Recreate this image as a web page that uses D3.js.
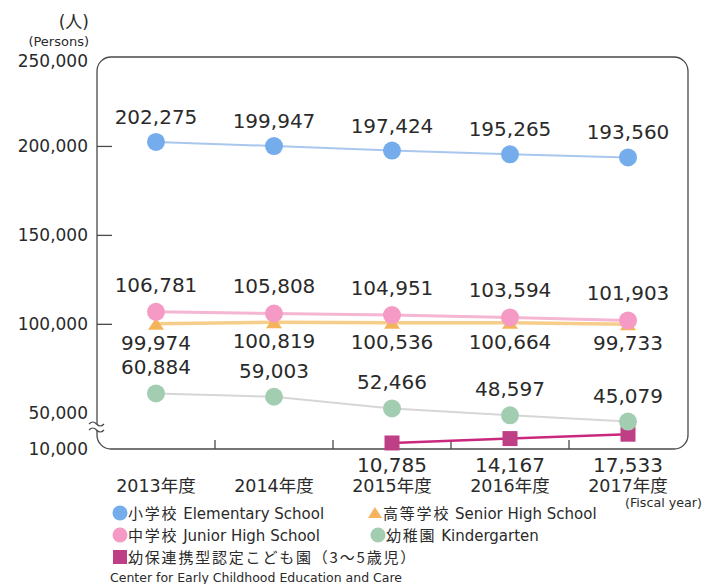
<!DOCTYPE html>
<html>
<head>
<meta charset="UTF-8">
<script src="https://cdn.jsdelivr.net/npm/d3@7"></script>
<style>
html, body { margin: 0; padding: 0; background: #fff; }
svg { display: block; font-family: "DejaVu Sans", "Noto Sans CJK JP", sans-serif; }
</style>
</head>
<body>
<script>
// school enrolment by fiscal year (persons)
var years = ["2013", "2014", "2015", "2016", "2017"];
var elementary = [202275, 199947, 197424, 195265, 193560];
var juniorHigh = [106781, 105808, 104951, 103594, 101903];
var seniorHigh = [99974, 100819, 100536, 100664, 99733];
var kindergarten = [60884, 59003, 52466, 48597, 45079];
var ececYears = ["2015", "2016", "2017"];
var ecec = [10785, 14167, 17533];

var yTickLabels = [10000, 50000, 100000, 150000, 200000, 250000];
var yTickMarks = [100000, 150000, 200000];

var width = 719, height = 584;
var frameL = 97, frameR = 688, frameT = 57, frameB = 449, rad = 14;

var svg = d3.select("body").append("svg")
    .attr("width", width)
    .attr("height", height);

var x = d3.scalePoint().domain(years).range([156, 628]);
// broken axis: lower part squeezed below the ≈ mark
var y = d3.scaleLinear()
    .domain([10000, 20000, 42000, 250000])
    .range([444, 431, 427, 57]);

// frame
svg.append("rect")
    .attr("x", frameL).attr("y", frameT)
    .attr("width", frameR - frameL).attr("height", frameB - frameT)
    .attr("rx", rad).attr("ry", rad)
    .attr("fill", "none")
    .attr("stroke", "#4a4a4a")
    .attr("stroke-width", 1.3);

// inner tick marks on left edge
svg.append("g")
    .attr("transform", "translate(" + frameL + ",0)")
    .call(d3.axisRight(y).tickValues(yTickMarks).tickSize(15).tickFormat(""))
    .call(function(g) { g.select(".domain").remove(); })
    .selectAll("line").attr("stroke", "#4a4a4a").attr("stroke-width", 1.3);

// y labels
var yAxis = svg.append("g")
    .attr("transform", "translate(" + frameL + ",0)")
    .call(d3.axisLeft(y).tickValues(yTickLabels).tickSize(0).tickPadding(9).tickFormat(d3.format(",")));
yAxis.select(".domain").remove();
yAxis.selectAll("text")
    .attr("font-family", "DejaVu Sans")
    .attr("font-size", 17)
    .attr("fill", "#2a2a2a")
    .attr("dy", function(d) { return d == 250000 ? "0.55em" : d == 10000 ? "0.6em" : "0.35em"; });

// bottom ticks between categories
var mids = years.slice(1).map(function(d, i) { return (x(years[i]) + x(d)) / 2; });
svg.append("g").selectAll("line")
    .data(mids)
    .enter().append("line")
    .attr("x1", function(d) { return d; })
    .attr("x2", function(d) { return d; })
    .attr("y1", frameB - 9)
    .attr("y2", frameB)
    .attr("stroke", "#4a4a4a")
    .attr("stroke-width", 1.3);

// break mark
svg.append("path")
    .attr("d", "M89,424 q3.75,-4 7.5,0 t7.5,0 L104,430 q-3.75,4 -7.5,0 t-7.5,0 Z")
    .attr("fill", "#fff");
svg.append("path")
    .attr("d", "M89,424 q3.75,-4 7.5,0 t7.5,0 M89,430 q3.75,-4 7.5,0 t7.5,0")
    .attr("fill", "none")
    .attr("stroke", "#4a4a4a")
    .attr("stroke-width", 1.2);

// unit labels
svg.append("text").attr("x", 89).attr("y", 28)
    .attr("text-anchor", "end").attr("font-size", 17).attr("fill", "#2a2a2a")
    .text("(人)");
svg.append("text").attr("x", 89).attr("y", 46)
    .attr("text-anchor", "end").attr("font-size", 13).attr("fill", "#2a2a2a")
    .text("(Persons)");

var line = d3.line();

function drawSeries(cats, vals, opt) {
    var pts = cats.map(function(c, i) { return [x(c), y(vals[i])]; });
    var g = svg.append("g");
    g.append("path")
        .attr("d", line(pts))
        .attr("fill", "none")
        .attr("stroke", opt.line)
        .attr("stroke-width", opt.lw);
    var m = g.selectAll(".m").data(pts).enter();
    if (opt.shape == "circle") {
        m.append("circle")
            .attr("cx", function(d) { return d[0]; })
            .attr("cy", function(d) { return d[1]; })
            .attr("r", 9)
            .attr("fill", opt.color);
    } else if (opt.shape == "tri") {
        m.append("path")
            .attr("d", function(d) { return "M" + d[0] + "," + (d[1] - 6) + " l8,12 l-16,0 Z"; })
            .attr("fill", opt.color);
    } else {
        m.append("rect")
            .attr("x", function(d) { return d[0] - 7.5; })
            .attr("y", function(d) { return d[1] - 7.5; })
            .attr("width", 15).attr("height", 15)
            .attr("fill", opt.color);
    }
    return pts;
}

function drawLabels(cats, vals, fn) {
    svg.append("g").selectAll("text")
        .data(vals)
        .enter().append("text")
        .attr("x", function(d, i) { return x(cats[i]); })
        .attr("y", fn)
        .attr("text-anchor", "middle")
        .attr("font-size", 20)
        .attr("fill", "#2a2a2a")
        .text(d3.format(","));
}

drawSeries(years, seniorHigh, { line: "#f6cd8a", lw: 3.5, color: "#f4b45c", shape: "tri" });
drawSeries(years, juniorHigh, { line: "#f4b6d2", lw: 3, color: "#f59ac4", shape: "circle" });
drawSeries(years, elementary, { line: "#a9c7ee", lw: 2, color: "#74acec", shape: "circle" });
drawSeries(ececYears, ecec, { line: "#c8287e", lw: 2.5, color: "#bf3f86", shape: "rect" });
drawSeries(years, kindergarten, { line: "#d6d6d6", lw: 2, color: "#a2cdb0", shape: "circle" });

drawLabels(years, elementary, function(d) { return y(d) - 18; });
drawLabels(years, juniorHigh, function(d) { return y(d) - 20; });
drawLabels(years, seniorHigh, function(d) { return y(d) + 26; });
drawLabels(years, kindergarten, function(d) { return y(d) - 19; });
drawLabels(ececYears, ecec, function() { return 472; });

// x category labels
svg.append("g").selectAll("text")
    .data(years)
    .enter().append("text")
    .attr("x", function(d) { return x(d); })
    .attr("y", 492)
    .attr("text-anchor", "middle")
    .attr("font-size", 17.5)
    .attr("fill", "#2a2a2a")
    .text(function(d) { return d + "年度"; });
svg.append("text").attr("x", 625).attr("y", 507)
    .attr("font-size", 12.7).attr("fill", "#2a2a2a")
    .text("(Fiscal year)");

// legend
var legend = [
    { jp: "小学校", en: "Elementary School", color: "#74acec", shape: "circle", lx: 120, ly: 513 },
    { jp: "高等学校", en: "Senior High School", color: "#f4b45c", shape: "tri", lx: 375, ly: 513 },
    { jp: "中学校", en: "Junior High School", color: "#f59ac4", shape: "circle", lx: 120, ly: 535 },
    { jp: "幼稚園", en: "Kindergarten", color: "#a2cdb0", shape: "circle", lx: 378, ly: 535 },
    { jp: "幼保連携型認定こども園（3～5歳児）", en: "", color: "#bf3f86", shape: "rect", lx: 120, ly: 557 }
];
var lg = svg.append("g").selectAll("g").data(legend).enter().append("g");
lg.each(function(d) {
    var g = d3.select(this);
    if (d.shape == "circle") {
        g.append("circle").attr("cx", d.lx).attr("cy", d.ly).attr("r", 7.5).attr("fill", d.color);
    } else if (d.shape == "tri") {
        g.append("path").attr("d", "M" + d.lx + "," + (d.ly - 6) + " l7,11 l-14,0 Z").attr("fill", d.color);
    } else {
        g.append("rect").attr("x", d.lx - 7).attr("y", d.ly - 7).attr("width", 14).attr("height", 14).attr("fill", d.color);
    }
    var t = g.append("text")
        .attr("x", d.lx + 8)
        .attr("y", d.ly + 6)
        .attr("fill", "#2a2a2a");
    t.append("tspan").attr("font-size", 15).attr("letter-spacing", 1.8)
        .attr("font-family", "Noto Sans CJK JP").text(d.jp);
    if (d.en) t.append("tspan").attr("font-size", 15).text(" " + d.en);
});
svg.append("text").attr("x", 110).attr("y", 582)
    .attr("font-size", 12.5).attr("fill", "#2a2a2a")
    .text("Center for Early Childhood Education and Care");
</script>
</body>
</html>
